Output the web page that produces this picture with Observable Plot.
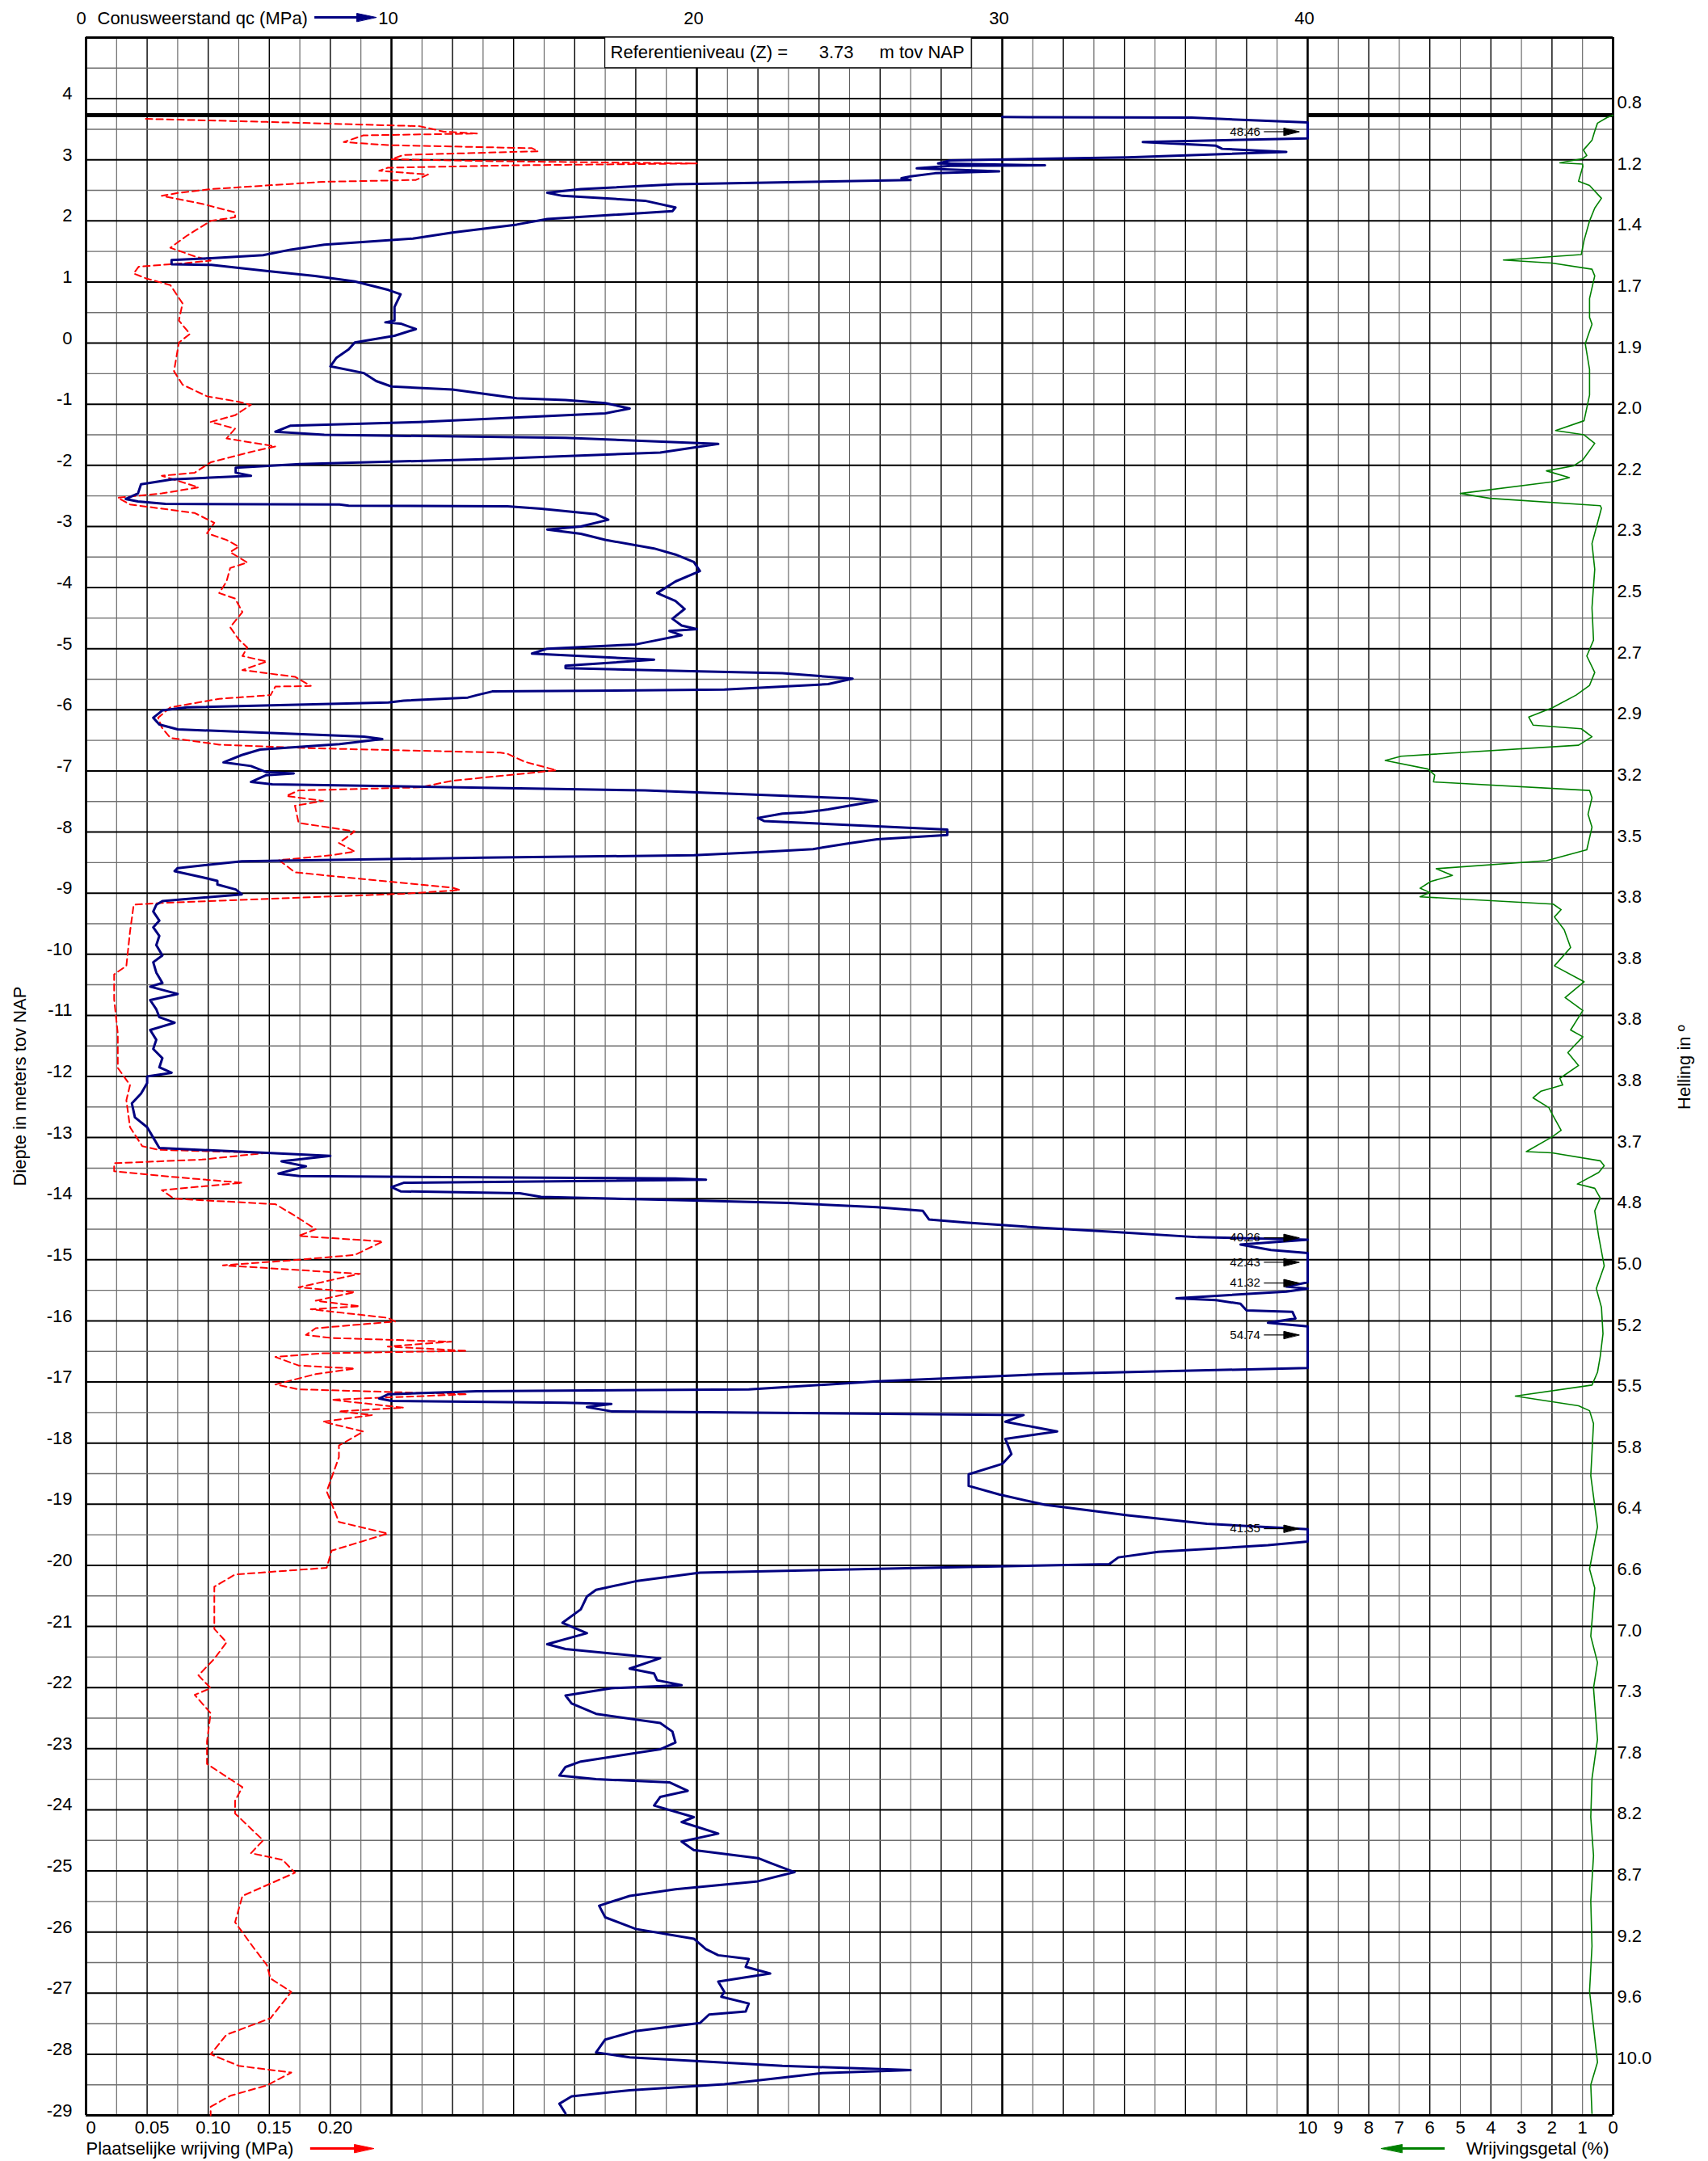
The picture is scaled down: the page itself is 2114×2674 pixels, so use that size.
<!DOCTYPE html>
<html><head><meta charset="utf-8">
<script src="https://cdn.jsdelivr.net/npm/d3@7"></script>
<script src="https://cdn.jsdelivr.net/npm/@observablehq/plot@0.6"></script>
<style>body{margin:0;background:#fff;} svg{display:block}</style>
</head><body><div id="chart"></div>
<script>
// ---------- DATA ----------
const refLevel = 3.73;
// Conusweerstand qc (MPa): [depth m NAP, qc]
const qcProfile = [
[3.70,30.0],[3.69,36.2],[3.61,40],[3.35,40],[3.29,34.6],[3.23,37.0],[3.18,37.2],[3.13,39.3],[3.04,34.1],[2.99,28.3],[2.94,27.9],[2.91,31.4],[2.90,28.3],[2.86,27.2],[2.81,29.9],[2.78,27.8],[2.73,27.0],[2.70,26.7],[2.67,27.0],[2.60,19.3],[2.52,16.2],[2.46,15.1],[2.41,15.6],[2.33,18.3],[2.22,19.3],[2.16,19.2],[2.03,15.1],[1.94,14.1],[1.81,12.0],[1.71,10.7],[1.61,7.8],[1.53,6.7],[1.44,5.8],[1.39,4.1],[1.36,2.8],[1.29,2.8],[1.28,4.1],[1.18,5.9],[1.10,7.5],[1.01,8.8],[0.87,9.9],[0.80,10.3],[0.59,10.1],[0.37,10.1],[0.34,9.8],[0.32,10.3],[0.23,10.8],[0.12,10.1],[0.01,8.8],[-0.10,8.6],[-0.24,8.2],[-0.38,8.0],[-0.49,9.1],[-0.62,9.5],[-0.71,10.0],[-0.76,12.0],[-0.90,14.1],[-0.93,15.7],[-0.98,17.0],[-1.07,17.8],[-1.15,17.0],[-1.29,10.9],[-1.35,6.7],[-1.45,6.2],[-1.50,7.8],[-1.55,15.7],[-1.65,20.7],[-1.79,18.8],[-1.90,13.0],[-1.98,7.0],[-2.04,4.9],[-2.12,4.9],[-2.17,5.4],[-2.23,2.8],[-2.31,1.8],[-2.46,1.7],[-2.55,1.3],[-2.59,1.7],[-2.63,2.6],[-2.64,8.3],[-2.66,8.6],[-2.67,13.8],[-2.71,14.9],[-2.80,16.7],[-2.89,17.1],[-3.00,16.2],[-3.05,15.1],[-3.12,16.2],[-3.22,17.0],[-3.36,18.6],[-3.46,19.3],[-3.58,19.9],[-3.73,20.1],[-3.90,19.3],
[-4.09,18.7],[-4.22,19.3],[-4.35,19.6],[-4.51,19.2],[-4.62,19.5],[-4.68,20.0],[-4.71,19.1],[-4.78,19.5],[-4.87,18.6],[-4.93,18.0],[-5.00,15.1],[-5.08,14.6],[-5.18,18.6],[-5.28,15.7],[-5.32,15.7],[-5.37,20.1],[-5.40,22.8],[-5.49,25.1],[-5.58,24.3],[-5.67,20.9],[-5.70,13.3],[-5.76,12.8],[-5.80,12.5],[-5.85,10.4],[-5.88,9.9],[-5.96,3.3],[-6.01,2.5],[-6.13,2.2],[-6.24,2.4],[-6.32,3.0],[-6.44,9.1],[-6.48,9.7],[-6.56,8.3],[-6.65,5.7],[-6.74,5.1],[-6.86,4.5],[-6.92,5.4],[-7.02,5.9],[-7.04,6.8],[-7.07,5.9],[-7.18,5.4],[-7.22,6.1],[-7.25,9.9],[-7.32,18.3],[-7.45,25.1],[-7.49,25.9],[-7.63,24.3],[-7.68,23.5],[-7.70,22.8],[-7.77,22.0],[-7.82,22.2],[-7.96,28.2],[-8.05,28.2],[-8.12,25.9],[-8.19,24.9],[-8.28,23.8],[-8.33,22.0],[-8.38,19.9],[-8.42,13.0],[-8.48,5.1],[-8.59,3.0],[-8.64,2.9],[-8.74,3.8],[-8.80,4.3],[-8.86,4.3],[-8.94,4.9],[-9.02,5.1],[-9.13,2.5],[-9.19,2.3],[-9.30,2.2],[-9.45,2.4],[-9.56,2.2],[-9.70,2.4],[-9.85,2.3],[-10.02,2.5],[-10.13,2.2],[-10.30,2.3],[-10.47,2.5],[-10.53,2.1],[-10.65,3.0],[-10.75,2.1],[-10.90,2.3],[-11.03,2.4],[-11.12,2.9],[-11.24,2.1],[-11.40,2.3],[-11.55,2.2],[-11.70,2.5],[-11.85,2.4],[-11.94,2.8],[-12.00,2.0],[-12.11,2.0],[-12.28,1.8],[-12.44,1.5],[-12.67,1.6],[-12.83,2.0],[-13.00,2.2],[-13.17,2.4],[-13.25,5.9],[-13.30,8.0],[-13.39,6.4],[-13.47,7.2],[-13.59,6.3],[-13.63,7.0],[-13.67,19.3],[-13.69,20.3],[-13.74,10.4],[-13.81,10.0],[-13.88,10.3],[-13.91,14.2],[-13.97,14.9],[-14.03,19.9],[-14.07,23.0],[-14.14,25.9],[-14.20,27.4],[-14.34,27.6],[-14.39,28.8],[-14.48,31.4],[-14.54,33.5],[-14.63,36.4],[-14.67,40],[-14.75,37.8],[-14.84,38.8],[-14.89,40],[-15.37,40],[-15.44,39.3],[-15.47,40],[-15.52,39.3],[-15.63,35.7],[-15.66,37.0],[-15.72,37.8],[-15.83,38.0],[-15.85,39.5],[-15.96,39.6],[-16.03,38.7],[-16.09,40],[-16.77,40],[-16.87,31.4],[-16.99,25.9],[-17.12,21.7],[-17.15,12.8],[-17.20,9.9],[-17.27,9.6],[-17.31,10.0],[-17.34,15.7],[-17.36,17.2],[-17.41,16.4],[-17.48,17.2],[-17.54,30.7],[-17.65,30.1],[-17.81,31.8],[-17.93,30.1],[-18.18,30.3],[-18.34,30.0],[-18.51,28.9],[-18.70,28.9],[-18.84,29.9],[-19.01,31.4],[-19.18,34.1],[-19.32,36.7],[-19.41,40],[-19.61,40],[-19.67,38.7],[-19.78,35.1],[-19.87,33.8],[-19.98,33.5],[-20.04,27.5],[-20.12,20.1],[-20.26,18.0],[-20.40,16.7],[-20.51,16.4],[-20.72,16.2],[-20.94,15.6],[-21.11,16.4],[-21.29,15.1],[-21.37,15.7],[-21.52,18.8],[-21.69,17.8],[-21.77,18.6],[-21.88,18.7],[-21.96,19.5],[-22.01,17.2],[-22.13,15.7],[-22.26,15.9],[-22.43,16.7],[-22.58,18.8],[-22.72,19.2],[-22.90,19.3],[-23.01,18.8],[-23.21,16.2],[-23.30,15.7],[-23.44,15.5],[-23.50,16.7],[-23.55,19.1],[-23.69,19.7],[-23.79,18.8],[-23.93,18.6],[-24.12,19.9],[-24.20,19.5],[-24.39,20.7],[-24.52,19.5],[-24.66,19.9],[-24.79,22.0],[-24.87,22.4],[-25.02,23.2],[-25.17,22.0],[-25.30,19.3],[-25.41,17.8],[-25.57,16.8],[-25.76,17.0],[-25.95,18.0],[-26.11,19.9],[-26.28,20.3],[-26.38,20.7],[-26.44,21.7],[-26.57,21.6],[-26.68,22.4],[-26.81,20.7],[-26.98,20.9],[-27.06,20.8],[-27.17,21.7],[-27.30,21.6],[-27.35,20.4],[-27.49,20.1],[-27.62,18.0],[-27.76,17.0],[-27.97,16.7],[-28.05,17.8],[-28.19,22.8],[-28.26,27.0],[-28.31,24.1],[-28.49,20.9],[-28.59,17.8],[-28.69,15.9],[-28.81,15.5],[-28.97,15.7]
];
// Plaatselijke wrijving fs (MPa): [depth, fs]
const fsProfile = [
[3.67,0.049],[3.62,0.148],[3.55,0.273],[3.46,0.293],[3.43,0.320],[3.40,0.227],[3.29,0.211],[3.24,0.247],[3.19,0.365],[3.14,0.370],[3.08,0.260],[3.01,0.250],[2.98,0.325],[2.94,0.500],[2.91,0.352],[2.87,0.247],[2.82,0.240],[2.76,0.280],[2.67,0.270],[2.64,0.194],[2.52,0.102],[2.46,0.076],[2.41,0.062],[2.28,0.095],[2.14,0.122],[2.06,0.122],[2.00,0.102],[1.75,0.082],[1.56,0.069],[1.42,0.089],[1.35,0.102],[1.31,0.082],[1.25,0.043],[1.14,0.039],[1.06,0.049],[0.95,0.069],[0.65,0.079],[0.37,0.076],[0.15,0.085],[0.01,0.076],[-0.46,0.072],[-0.68,0.079],[-0.87,0.099],[-0.96,0.125],[-1.01,0.135],[-1.18,0.122],[-1.29,0.102],[-1.40,0.122],[-1.56,0.115],[-1.69,0.155],[-1.78,0.135],[-1.95,0.102],[-2.12,0.089],[-2.17,0.062],[-2.36,0.092],[-2.46,0.062],[-2.53,0.026],[-2.64,0.036],[-2.78,0.089],[-2.94,0.105],[-3.11,0.099],[-3.22,0.115],[-3.33,0.125],[-3.42,0.118],[-3.59,0.132],[-3.68,0.118],[-3.90,0.115],[-4.09,0.109],[-4.18,0.122],[-4.40,0.128],[-4.65,0.118],[-4.85,0.125],[-4.98,0.132],[-5.12,0.128],[-5.21,0.148],[-5.35,0.128],[-5.46,0.171],[-5.61,0.184],[-5.62,0.155],[-5.76,0.151],[-5.82,0.109],[-5.96,0.069],[-6.13,0.059],[-6.29,0.062],[-6.46,0.069],[-6.57,0.109],[-6.63,0.187],[-6.70,0.339],[-6.72,0.345],[-6.85,0.359],[-6.99,0.385],[-7.07,0.345],[-7.16,0.300],[-7.27,0.273],[-7.32,0.174],[-7.41,0.164],[-7.49,0.194],[-7.57,0.171],[-7.85,0.174],[-7.99,0.220],[-8.18,0.207],[-8.32,0.220],[-8.38,0.201],[-8.46,0.158],[-8.66,0.171],[-8.77,0.227],[-8.91,0.300],[-8.95,0.306],[-9.01,0.260],[-9.16,0.062],[-9.19,0.039],[-9.63,0.036],[-10.19,0.033],[-10.33,0.023],[-10.74,0.023],[-11.30,0.026],[-11.86,0.026],[-12.14,0.036],[-12.39,0.033],[-12.83,0.036],[-13.14,0.046],[-13.20,0.059],[-13.25,0.148],[-13.36,0.095],[-13.42,0.023],[-13.55,0.023],[-13.64,0.069],[-13.74,0.128],[-13.86,0.062],[-14.00,0.072],[-14.09,0.155],[-14.28,0.171],[-14.50,0.188],[-14.61,0.174],[-14.70,0.243],[-14.92,0.220],[-15.00,0.174],[-15.09,0.112],[-15.23,0.224],[-15.45,0.174],[-15.53,0.220],[-15.67,0.188],[-15.76,0.224],[-15.81,0.184],[-15.95,0.247],[-16.01,0.253],[-16.12,0.188],[-16.23,0.180],[-16.28,0.201],[-16.34,0.299],[-16.42,0.247],[-16.49,0.312],[-16.53,0.194],[-16.59,0.155],[-16.73,0.174],[-16.78,0.220],[-16.87,0.188],[-17.04,0.155],[-17.12,0.174],[-17.20,0.312],[-17.29,0.201],[-17.42,0.260],[-17.48,0.207],[-17.54,0.234],[-17.65,0.194],[-17.81,0.227],[-18.04,0.207],[-18.23,0.207],[-18.79,0.197],[-19.29,0.207],[-19.48,0.247],[-19.76,0.201],[-20.04,0.197],[-20.15,0.122],[-20.35,0.105],[-20.82,0.105],[-21.04,0.105],[-21.26,0.115],[-21.53,0.105],[-21.80,0.092],[-22.01,0.102],[-22.12,0.089],[-22.42,0.102],[-22.88,0.099],[-23.25,0.099],[-23.63,0.128],[-23.85,0.122],[-24.06,0.122],[-24.50,0.145],[-24.71,0.135],[-24.82,0.161],[-25.03,0.171],[-25.41,0.128],[-25.84,0.122],[-26.28,0.138],[-26.54,0.148],[-26.76,0.151],[-26.98,0.168],[-27.41,0.151],[-27.68,0.115],[-28.00,0.102],[-28.19,0.125],[-28.30,0.168],[-28.51,0.148],[-28.68,0.118],[-28.86,0.102],[-29.00,0.102]
];
// Wrijvingsgetal Rf (%): [depth, Rf]
const rfProfile = [
[3.73,0.0],[3.69,0.2],[3.60,0.51],[3.47,0.6],[3.32,0.69],[3.16,0.97],[3.07,0.86],[3.02,0.99],[2.95,1.74],[2.93,1.0],[2.89,0.99],[2.65,1.13],[2.58,0.77],[2.37,0.38],[2.21,0.6],[2.00,0.77],[1.68,0.95],[1.45,1.04],[1.36,3.59],[1.31,2.0],[1.21,0.69],[1.10,0.6],[0.73,0.77],[0.42,0.77],[0.31,0.69],[-0.01,0.91],[-0.43,0.77],[-0.85,0.77],[-1.27,0.95],[-1.43,1.88],[-1.50,0.95],[-1.64,0.6],[-1.91,0.99],[-2.01,1.3],[-2.09,2.18],[-2.20,1.43],[-2.27,2.0],[-2.46,5.0],[-2.54,4.03],[-2.66,0.42],[-2.70,0.38],[-3.28,0.69],[-3.70,0.6],[-4.33,0.69],[-4.86,0.64],[-5.12,0.86],[-5.39,0.6],[-5.60,0.77],[-5.76,1.21],[-5.97,2.0],[-6.12,2.76],[-6.25,2.62],[-6.31,1.04],[-6.44,0.69],[-6.58,1.13],[-6.76,6.94],[-6.83,7.46],[-6.97,6.06],[-7.07,5.84],[-7.18,5.88],[-7.32,0.77],[-7.44,0.69],[-7.71,0.82],[-7.92,0.69],[-8.29,0.86],[-8.47,2.18],[-8.60,5.79],[-8.71,5.26],[-8.81,5.97],[-8.92,6.32],[-8.99,6.0],[-9.06,6.32],[-9.18,1.96],[-9.27,1.70],[-9.39,1.92],[-9.60,1.60],[-9.89,1.39],[-10.19,1.92],[-10.45,0.95],[-10.71,1.57],[-10.92,0.99],[-11.24,1.39],[-11.35,0.99],[-11.61,1.48],[-11.82,1.13],[-12.03,1.74],[-12.14,1.65],[-12.24,2.36],[-12.35,2.62],[-12.51,2.1],[-12.61,2.0],[-12.88,1.70],[-12.99,2.0],[-13.23,2.84],[-13.25,2.0],[-13.38,0.42],[-13.46,0.29],[-13.57,0.47],[-13.76,1.17],[-13.83,0.6],[-13.99,0.42],[-14.20,0.6],[-14.62,0.47],[-15.10,0.29],[-15.47,0.55],[-15.78,0.38],[-16.21,0.33],[-16.58,0.42],[-16.84,0.51],[-17.05,0.69],[-17.23,3.20],[-17.39,1.13],[-17.47,0.77],[-17.68,0.64],[-18.53,0.73],[-19.37,0.51],[-20.06,0.77],[-20.37,0.6],[-21.16,0.73],[-21.59,0.51],[-22.01,0.64],[-22.85,0.51],[-23.49,0.69],[-24.12,0.73],[-24.75,0.64],[-25.49,0.73],[-26.23,0.69],[-26.97,0.77],[-28.13,0.51],[-28.50,0.73],[-28.97,0.69]
];
// values beyond 40 MPa, written beside clipped segments
const clipLabels = ["48.46","40.26","42.43","41.32","54.74","41.35"];
const clipDepths = [3.46,-14.64,-15.04,-15.38,-16.23,-19.40];
// axis tick labels
const depthTicks = [4,3,2,1,0,-1,-2,-3,-4,-5,-6,-7,-8,-9,-10,-11,-12,-13,-14,-15,-16,-17,-18,-19,-20,-21,-22,-23,-24,-25,-26,-27,-28,-29];
const hellingLabels = ["0.8","1.2","1.4","1.7","1.9","2.0","2.2","2.3","2.5","2.7","2.9","3.2","3.5","3.8","3.8","3.8","3.8","3.7","4.8","5.0","5.2","5.5","5.8","6.4","6.6","7.0","7.3","7.8","8.2","8.7","9.2","9.6","10.0"];
const qcTicks = [10,20,30,40];
const fsTicks = [0,0.05,0.10,0.15,0.20];
const fsTickLabels = ["0","0.05","0.10","0.15","0.20"];
const rfTicks = [10,9,8,7,6,5,4,3,2,1,0];

// ---------- helpers (scale mappings onto the shared x axis) ----------
const FS_TO_X = 40;            // 0.25 MPa friction per 10 MPa column
const RF_X = v => 50 - v;      // friction ratio panel: 10 at x=40, 0 at x=50
const PX = 37.8, PY = 75.62;   // px per unit x / y
function head(id, tipX, y, dir, len, half) {
  const bx = tipX - dir * len / PX;
  return [{id, x: tipX, y}, {id, x: bx, y: y + half / PY}, {id, x: bx, y: y - half / PY}];
}
const valueHeads = clipDepths.flatMap((d, i) => head("v" + i, 39.72, d, 1, 19, 4.5));
const valueShafts = clipDepths.map(d => ({x1: 38.58, x2: 39.3, y: d}));
const valueTexts = clipDepths.map((d, i) => ({x: 38.45, y: d, t: clipLabels[i]}));

const font = "'Liberation Sans', Arial, Helvetica, sans-serif";
const grid = d3.range(0, 51);
const halfDepths = d3.range(4.5, -29, -1);
const intDepths = d3.range(4, -29, -1);

const chart = Plot.plot({
  width: 2114, height: 2674,
  marginLeft: 0, marginRight: 0, marginTop: 0, marginBottom: 0,
  style: {fontFamily: font, background: "white", color: "black", overflow: "visible"},
  x: {domain: [0, 50], range: [106, 1996], axis: null},
  y: {domain: [5, -29], range: [46, 2617], axis: null},
  marks: [
    // grid
    Plot.ruleX(grid.filter(v => v % 2 === 1), {y1: 5, y2: -29, stroke: "#5e5e5e", strokeWidth: 1.1}),
    Plot.ruleX(grid.filter(v => v % 2 === 0 && v % 10 !== 0), {y1: 5, y2: -29, stroke: "#000", strokeWidth: 1.4}),
    Plot.ruleY(halfDepths, {x1: 0, x2: 50, stroke: "#6e6e6e", strokeWidth: 1.4}),
    Plot.ruleY(intDepths, {x1: 0, x2: 50, stroke: "#000", strokeWidth: 2}),
    Plot.ruleX(qcTicks, {y1: 5, y2: -29, stroke: "#000", strokeWidth: 2.6}),
    Plot.ruleX([0, 50], {y1: 5, y2: -29, stroke: "#000", strokeWidth: 3}),
    Plot.ruleY([5, -29], {x1: 0, x2: 50, stroke: "#000", strokeWidth: 3}),
    // reference box
    Plot.rect([{x1: 17, x2: 29, y1: 5, y2: 4.5}], {x1: "x1", x2: "x2", y1: "y1", y2: "y2", fill: "white", stroke: "#000", strokeWidth: 1.2}),
    Plot.text([{x: 17.17, t: "Referentieniveau (Z) ="}, {x: 24.0, t: String(refLevel)}, {x: 25.98, t: "m tov NAP"}],
      {x: "x", y: 4.75, text: "t", textAnchor: "start", fontSize: 22, fill: "#000"}),
    // ground level line
    Plot.ruleY([{y: refLevel, x1: 0, x2: 30}, {y: refLevel, x1: 40, x2: 50}], {y: "y", x1: "x1", x2: "x2", stroke: "#000", strokeWidth: 5}),
    // data curves
    Plot.line(fsProfile, {x: d => d[1] * FS_TO_X, y: d => d[0], stroke: "#ff0000", strokeWidth: 2, strokeDasharray: "8,5", curve: "linear"}),
    Plot.line(qcProfile, {x: d => Math.min(d[1], 40), y: d => d[0], stroke: "#000080", strokeWidth: 3, curve: "linear"}),
    Plot.line(rfProfile, {x: d => RF_X(d[1]), y: d => d[0], stroke: "#008000", strokeWidth: 1.6, curve: "linear"}),
    // clipped value annotations
    Plot.ruleY(valueShafts, {y: "y", x1: "x1", x2: "x2", stroke: "#000", strokeWidth: 1.2}),
    Plot.line(valueHeads, {x: "x", y: "y", z: "id", fill: "#000", stroke: "#000", strokeWidth: 1, curve: "linear-closed"}),
    Plot.text(valueTexts, {x: "x", y: "y", text: "t", textAnchor: "end", fontSize: 15, fill: "#000"}),
    // left depth labels
    Plot.text(depthTicks, {x: 0, y: d => d, text: d => String(d), dx: -17, dy: -6, textAnchor: "end", fontSize: 22, fill: "#000"}),
    Plot.text(["Diepte in meters tov NAP"], {x: 0, y: -12.16, text: d => d, dx: -82, rotate: -90, fontSize: 22, fill: "#000"}),
    // right helling labels
    Plot.text(hellingLabels, {x: 50, y: (d, i) => depthTicks[i], text: d => d, dx: 5, dy: 5, textAnchor: "start", fontSize: 22, fill: "#000"}),
    Plot.text(["Helling in º"], {x: 50, y: -11.85, text: d => d, dx: 88, rotate: -90, fontSize: 22, fill: "#000"}),
    // top axis (qc)
    Plot.text(["0"], {x: 0, y: 5, text: d => d, dx: -6, dy: -24, fontSize: 22, fill: "#000"}),
    Plot.text(["Conusweerstand qc (MPa)"], {x: 0, y: 5, text: d => d, dx: 14, dy: -24, textAnchor: "start", fontSize: 22, fill: "#000"}),
    Plot.text(qcTicks, {x: d => d, y: 5, text: d => String(d), dx: -4, dy: -24, fontSize: 22, fill: "#000"}),
    Plot.ruleY([{y: 5, x1: 7.49, x2: 9.0}], {y: "y", x1: "x1", x2: "x2", dy: -25, stroke: "#000080", strokeWidth: 3}),
    Plot.line(head("q", 9.5, 5, 1, 24, 5), {x: "x", y: "y", z: "id", dy: -25, fill: "#000080", stroke: "#000080", strokeWidth: 1, curve: "linear-closed"}),
    // bottom axis (fs)
    Plot.text(fsTicks, {x: d => d * FS_TO_X, y: -29, text: (d, i) => fsTickLabels[i], dx: 6, dy: 15, fontSize: 22, fill: "#000"}),
    Plot.text(["Plaatselijke wrijving (MPa)"], {x: 0, y: -29, text: d => d, dy: 41, textAnchor: "start", fontSize: 22, fill: "#000"}),
    Plot.ruleY([{y: -29, x1: 7.35, x2: 8.9}], {y: "y", x1: "x1", x2: "x2", dy: 41, stroke: "#ff0000", strokeWidth: 3}),
    Plot.line(head("f", 9.42, -29, 1, 24, 5), {x: "x", y: "y", z: "id", dy: 41, fill: "#ff0000", stroke: "#ff0000", strokeWidth: 1, curve: "linear-closed"}),
    // bottom axis (Rf)
    Plot.text(rfTicks, {x: d => RF_X(d), y: -29, text: d => String(d), dy: 15, fontSize: 22, fill: "#000"}),
    Plot.text(["Wrijvingsgetal (%)"], {x: 50, y: -29, text: d => d, dx: -5, dy: 41, textAnchor: "end", fontSize: 22, fill: "#000"}),
    Plot.ruleY([{y: -29, x1: 43.0, x2: 44.5}], {y: "y", x1: "x1", x2: "x2", dy: 41, stroke: "#008000", strokeWidth: 3}),
    Plot.line(head("r", 42.41, -29, -1, 26, 5), {x: "x", y: "y", z: "id", dy: 41, fill: "#008000", stroke: "#008000", strokeWidth: 1, curve: "linear-closed"})
  ]
});
document.getElementById("chart").append(chart);
</script></body></html>
